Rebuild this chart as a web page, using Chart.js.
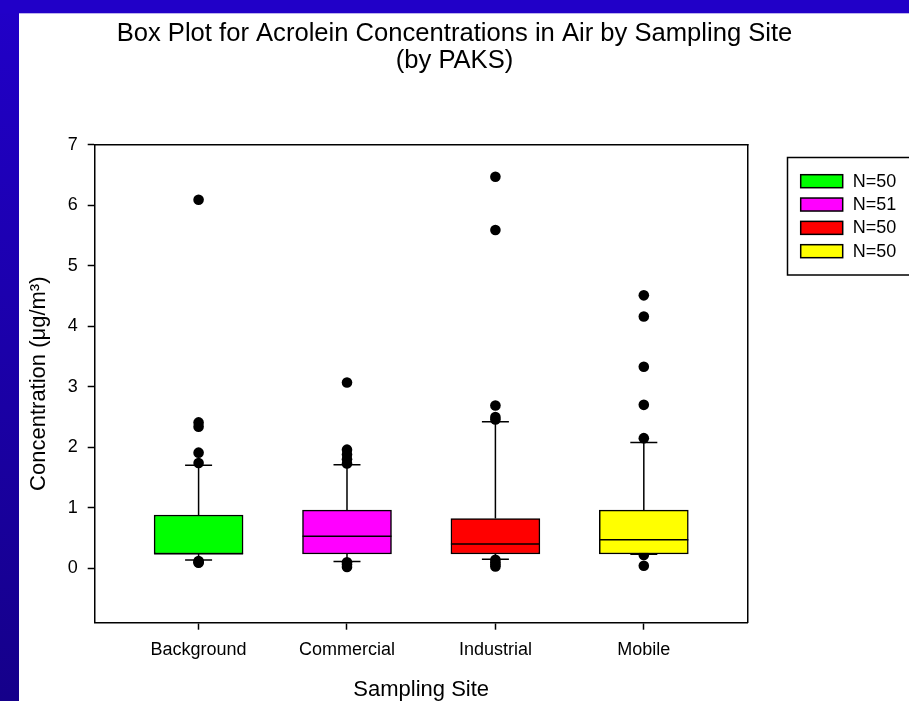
<!DOCTYPE html>
<html><head><meta charset="utf-8">
<script src="https://cdn.jsdelivr.net/npm/chart.js@4"></script>
<style>html,body{margin:0;padding:0;background:#fff;}canvas{display:block;}</style>
</head><body>
<canvas id="c" width="909" height="701"></canvas>
<script>
// ---- data ----
const categories = ['Background', 'Commercial', 'Industrial', 'Mobile'];
const whiskerLow = [0.137, 0.11, 0.15, 0.23];
const q1 = [0.236, 0.236, 0.236, 0.236];
const median = [0.24, 0.53, 0.40, 0.47];
const q3 = [0.88, 0.96, 0.82, 0.96];
const whiskerHigh = [1.70, 1.71, 2.42, 2.08];
const outliersBackground = [6.09, 2.41, 2.34, 1.91, 1.74, 0.12, 0.10, 0.09];
const outliersCommercial = [3.07, 1.96, 1.88, 1.80, 1.73, 0.10, 0.06, 0.02];
const outliersIndustrial = [6.47, 5.59, 2.69, 2.50, 2.46, 0.14, 0.10, 0.06, 0.03];
const outliersMobile = [4.51, 4.16, 3.33, 2.70, 2.15, 0.22, 0.04];
const sampleCounts = [50, 51, 50, 50];
const boxColors = ['#00ff00', '#ff00ff', '#ff0000', '#ffff00'];
const yTicks = [0, 1, 2, 3, 4, 5, 6, 7];
const titleLines = ['Box Plot for Acrolein Concentrations in Air by Sampling Site', '(by PAKS)'];
const yTitle = 'Concentration (\u03BCg/m\u00B3)';
const xTitle = 'Sampling Site';

const outlierGroups = [outliersBackground, outliersCommercial, outliersIndustrial, outliersMobile];
const boxData = categories.map((c, i) => ({ x: i + 1, y: [q1[i], q3[i]] }));
const outlierData = outlierGroups.flatMap((g, i) => g.map(v => ({ x: i + 1, y: v })));

Chart.defaults.font.family = '"Liberation Sans", Arial, sans-serif';
Chart.defaults.color = '#000';

const LINE = '#000';

const background = {
  id: 'background',
  beforeDraw(chart) {
    const { ctx, width, height } = chart;
    ctx.save();
    ctx.fillStyle = '#fff';
    ctx.fillRect(0, 0, width, height);
    const g = ctx.createLinearGradient(0, 0, 0, height);
    g.addColorStop(0, '#2100c8');
    g.addColorStop(1, '#15008a');
    ctx.fillStyle = g;
    ctx.fillRect(0, 0, 19, height);
    ctx.fillStyle = '#2100c8';
    ctx.fillRect(0, 0, width, 13.3);
    ctx.restore();
  }
};

const boxPlotLines = {
  id: 'boxPlotLines',
  beforeDatasetsDraw(chart) {
    const { ctx, scales: { x, y } } = chart;
    const capHalf = 13.5;
    ctx.save();
    ctx.strokeStyle = LINE;
    ctx.lineWidth = 1.5;
    categories.forEach((c, i) => {
      const px = x.getPixelForValue(i + 1);
      const yHi = y.getPixelForValue(whiskerHigh[i]);
      const yLo = y.getPixelForValue(whiskerLow[i]);
      ctx.beginPath();
      ctx.moveTo(px, y.getPixelForValue(q3[i])); ctx.lineTo(px, yHi);
      ctx.moveTo(px, y.getPixelForValue(q1[i])); ctx.lineTo(px, yLo);
      ctx.moveTo(px - capHalf, yHi); ctx.lineTo(px + capHalf, yHi);
      ctx.moveTo(px - capHalf, yLo); ctx.lineTo(px + capHalf, yLo);
      ctx.stroke();
    });
    ctx.restore();
  },
  afterDatasetsDraw(chart) {
    const { ctx, scales: { y } } = chart;
    const meta = chart.getDatasetMeta(0);
    ctx.save();
    ctx.strokeStyle = LINE;
    ctx.lineWidth = 1.5;
    meta.data.forEach((bar, i) => {
      const py = y.getPixelForValue(median[i]);
      ctx.beginPath();
      ctx.moveTo(bar.x - bar.width / 2, py);
      ctx.lineTo(bar.x + bar.width / 2, py);
      ctx.stroke();
    });
    ctx.restore();
  }
};

const frameAndLegend = {
  id: 'frameAndLegend',
  afterDraw(chart) {
    const { ctx, chartArea: a } = chart;
    ctx.save();
    ctx.strokeStyle = LINE;
    ctx.lineWidth = 1.5;
    ctx.beginPath();
    ctx.moveTo(a.left - 0.75, a.top);
    ctx.lineTo(a.right + 0.75, a.top);
    ctx.stroke();
    // legend
    const lx = 787.5, ly = 157.5;
    ctx.strokeRect(lx, ly, 140, 117.5);
    ctx.font = '18px "Liberation Sans", Arial, sans-serif';
    ctx.textBaseline = 'middle';
    ctx.textAlign = 'left';
    sampleCounts.forEach((n, i) => {
      const top = 174.7 + i * 23.33;
      ctx.fillStyle = boxColors[i];
      ctx.fillRect(800.7, top, 42, 13);
      ctx.strokeRect(800.7, top, 42, 13);
      ctx.fillStyle = '#000';
      ctx.fillText('N=' + n, 852.7, top + 7);
    });
    ctx.restore();
  }
};

new Chart(document.getElementById('c'), {
  type: 'bar',
  data: {
    datasets: [
      {
        type: 'bar',
        data: boxData,
        backgroundColor: boxColors,
        borderColor: LINE,
        borderWidth: 1.5,
        borderSkipped: false,
        barThickness: 89,
        order: 1
      },
      {
        type: 'scatter',
        data: outlierData,
        backgroundColor: '#000',
        borderWidth: 0,
        pointRadius: 5.3,
        order: 2
      }
    ]
  },
  options: {
    responsive: false,
    animation: false,
    layout: { padding: 0 },
    plugins: {
      legend: { display: false },
      tooltip: { enabled: false },
      title: {
        display: true,
        text: titleLines,
        color: '#000',
        font: { size: 25.6, weight: 'normal', lineHeight: 1.05 },
        padding: { top: 20.3, bottom: 70.6 }
      }
    },
    scales: {
      x: {
        type: 'linear',
        min: 0.3,
        max: 4.7,
        offset: false,
        grid: { display: true, offset: false, drawOnChartArea: false, tickLength: 7, tickColor: LINE, tickWidth: 1.5 },
        border: { display: true, color: LINE, width: 1.5 },
        afterBuildTicks(s) { s.ticks = categories.map((c, i) => ({ value: i + 1 })); },
        ticks: {
          autoSkip: false, maxRotation: 0, padding: 10,
          font: { size: 18 },
          callback: v => categories[v - 1]
        },
        title: { display: true, text: xTitle, font: { size: 22, lineHeight: 1 }, padding: { top: 0, bottom: 0 } },
        afterFit(s) { s.height = 78.3; }
      },
      y: {
        type: 'linear',
        min: -0.9,
        max: 7,
        grid: { display: true, drawOnChartArea: false, tickLength: 7, tickColor: LINE, tickWidth: 1.5 },
        border: { display: true, color: LINE, width: 1.5 },
        afterBuildTicks(s) { s.ticks = yTicks.map(v => ({ value: v })); },
        ticks: { padding: 10, font: { size: 18 } },
        title: { display: true, text: yTitle, font: { size: 22 }, padding: { top: 26, bottom: 0 } },
        afterFit(s) { s.width = 94.7; }
      },
      y2: {
        type: 'linear',
        position: 'right',
        display: true,
        grid: { display: false, drawOnChartArea: false },
        ticks: { display: false },
        border: { display: true, color: LINE, width: 1.5 },
        afterFit(s) { s.width = 161.3; }
      }
    }
  },
  plugins: [background, boxPlotLines, frameAndLegend]
});
</script>
</body></html>
